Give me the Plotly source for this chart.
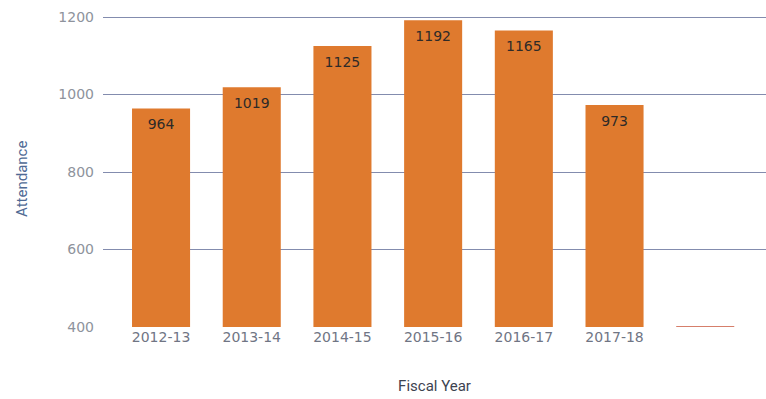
import plotly.graph_objects as go

categories = ["2012-13", "2013-14", "2014-15", "2015-16", "2016-17", "2017-18", " "]
attendance = [964, 1019, 1125, 1192, 1165, 973, 402]
labels = ["964", "1019", "1125", "1192", "1165", "973", ""]
y_ticks = [400, 600, 800, 1000, 1200]

bar_colors = ["#DF7A2E"] * 6 + ["#C8553A"]

fig = go.Figure()
fig.add_trace(go.Bar(
    x=categories,
    y=attendance,
    marker=dict(color=bar_colors, line=dict(width=0)),
    hoverinfo="skip",
))
fig.add_trace(go.Scatter(
    x=categories,
    y=attendance,
    mode="markers+text",
    text=labels,
    textposition="bottom center",
    marker=dict(size=15, opacity=0, color="rgba(0,0,0,0)"),
    textfont=dict(family="DejaVu Sans, sans-serif", size=14, color="#2e2a28"),
    hoverinfo="skip",
    cliponaxis=False,
))

fig.update_layout(
    width=766, height=399,
    margin=dict(l=103, r=0, t=0, b=72),
    paper_bgcolor="white", plot_bgcolor="white",
    bargap=0.36,
    showlegend=False,
    font=dict(family="DejaVu Sans, sans-serif"),
    annotations=[dict(
        text="Attendance", textangle=-90,
        xref="paper", yref="paper",
        x=(22 - 103) / 663, y=1 - 179 / 327,
        xanchor="center", yanchor="middle", showarrow=False,
        font=dict(family="Roboto, sans-serif", size=15, color="#4f6a94"),
    )],
)
fig.update_xaxes(
    type="category",
    range=[-0.64, 6.67],
    showgrid=False,
    showline=False,
    ticks="",
    tickfont=dict(family="DejaVu Sans, sans-serif", size=14, color="#707584"),
    title=dict(text="Fiscal Year", font=dict(family="Roboto, sans-serif", size=15, color="#3d4350"), standoff=36),
)
fig.update_yaxes(
    range=[400, 1244],
    tickvals=y_ticks,
    showgrid=True,
    gridcolor="#838cae",
    gridwidth=1,
    zeroline=False,
    showline=False,
    ticks="",
    ticklabelstandoff=8,
    tickfont=dict(family="DejaVu Sans, sans-serif", size=14, color="#8e939c"),
)

fig.write_html("out.html")
